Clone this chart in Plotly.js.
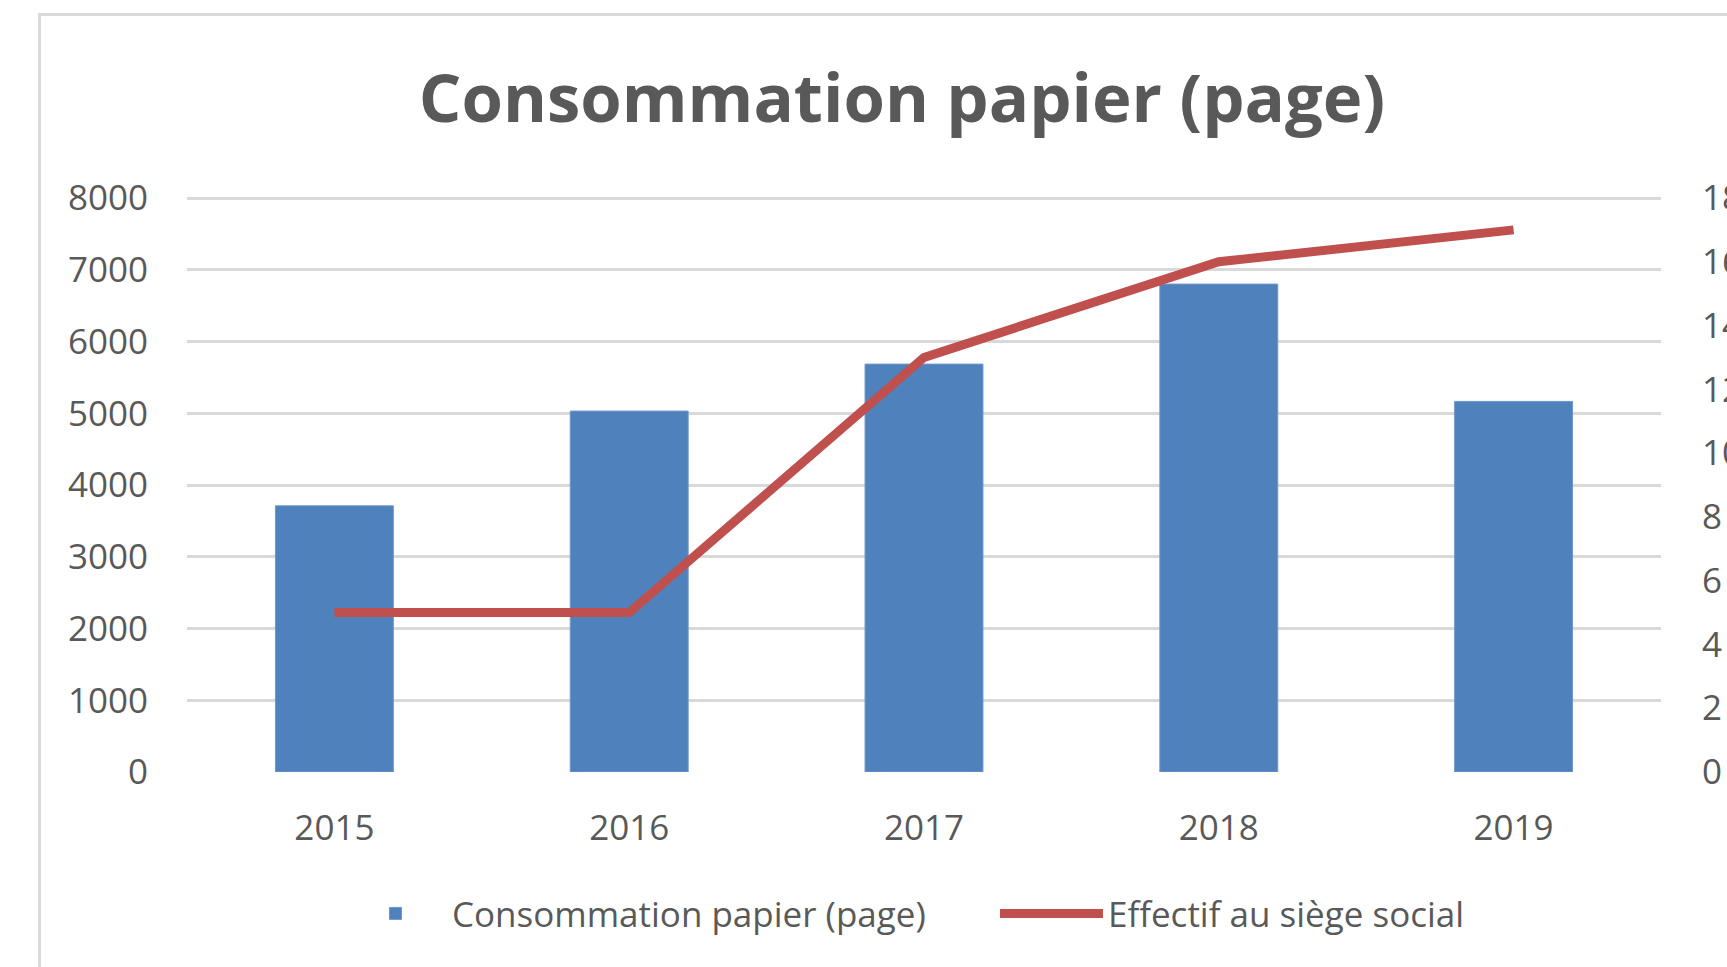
<!DOCTYPE html>
<html>
<head>
<meta charset="utf-8">
<script src="https://cdn.plot.ly/plotly-3.0.1.min.js"></script>
<style>
  html, body { margin: 0; padding: 0; background: #ffffff; overflow: hidden; width: 1727px; height: 967px; }
  #frame { position: absolute; left: 38px; top: 13px; width: 3000px; height: 3000px; border: 3px solid #d9d9d9; box-sizing: border-box; }
  #chart { position: absolute; left: 0; top: 0; width: 1727px; height: 967px; }
</style>
</head>
<body>
<div id="frame"></div>
<div id="chart"></div>
<script>
const years = ["2015", "2016", "2017", "2018", "2019"];
const consommationPapier = [3710, 5030, 5685, 6800, 5165];
const effectifSiege = [5, 5, 13, 16, 17];
const leftTicks = [0, 1000, 2000, 3000, 4000, 5000, 6000, 7000, 8000];
const rightTicks = [0, 2, 4, 6, 8, 10, 12, 14, 16, 18];

const fontFam = '"Open Sans", "Liberation Sans", sans-serif';
const txtColor = '#595959';
// plot area is 3px taller than the 0..8000 span so the top gridline is drawn
const pad = 577 / 574;

const traces = [
  {
    type: 'bar',
    name: 'Consommation papier (page)',
    x: years,
    y: consommationPapier,
    marker: { color: '#4f81bd', line: { color: '#6f97c8', width: 1 } },
    width: 0.4,
    yaxis: 'y',
    hoverinfo: 'x+y'
  },
  {
    type: 'scatter',
    mode: 'lines',
    name: 'Effectif au siège social',
    x: years,
    y: effectifSiege,
    line: { color: '#c0504d', width: 9 },
    yaxis: 'y2',
    hoverinfo: 'x+y'
  }
];

const layout = {
  width: 1727,
  height: 967,
  paper_bgcolor: 'rgba(0,0,0,0)',
  plot_bgcolor: 'rgba(0,0,0,0)',
  margin: { l: 187, r: 66, t: 195, b: 195, pad: 0 },
  font: { family: fontFam, color: txtColor, size: 35 },
  title: {
    text: 'Consommation papier (page)',
    font: { family: fontFam, size: 67, color: txtColor, weight: 'bold' },
    xref: 'container', yref: 'container',
    x: 0.5223, xanchor: 'center',
    y: 1 - 99 / 967, yanchor: 'middle'
  },
  showlegend: true,
  legend: {
    orientation: 'h',
    x: 0.1031, xanchor: 'left',
    y: -0.2455, yanchor: 'middle',
    font: { family: fontFam, size: 35, color: txtColor },
    itemwidth: 103,
    entrywidth: 538,
    entrywidthmode: 'pixels',
    traceorder: 'normal'
  },
  xaxis: {
    type: 'category',
    range: [-0.5, 4.5],
    showgrid: false,
    zeroline: false,
    showline: false,
    ticks: '',
    ticklabelstandoff: 32,
    tickfont: { family: fontFam, size: 35, color: txtColor },
    fixedrange: true
  },
  yaxis: {
    range: [0, 8000 * pad],
    tickvals: leftTicks,
    ticktext: leftTicks.map(String),
    showgrid: true,
    gridcolor: '#d9d9d9',
    gridwidth: 3,
    zeroline: false,
    showline: false,
    ticks: '',
    ticklabelstandoff: 38,
    tickfont: { family: fontFam, size: 35, color: txtColor },
    fixedrange: true
  },
  yaxis2: {
    overlaying: 'y',
    side: 'right',
    range: [0, 18 * pad],
    tickvals: rightTicks,
    ticktext: rightTicks.map(String),
    showgrid: false,
    zeroline: false,
    showline: false,
    ticks: '',
    ticklabelstandoff: 40,
    tickfont: { family: fontFam, size: 35, color: txtColor },
    fixedrange: true
  },
  bargap: 0.6
};

Plotly.newPlot('chart', traces, layout, { displayModeBar: false, staticPlot: true });
</script>
</body>
</html>
